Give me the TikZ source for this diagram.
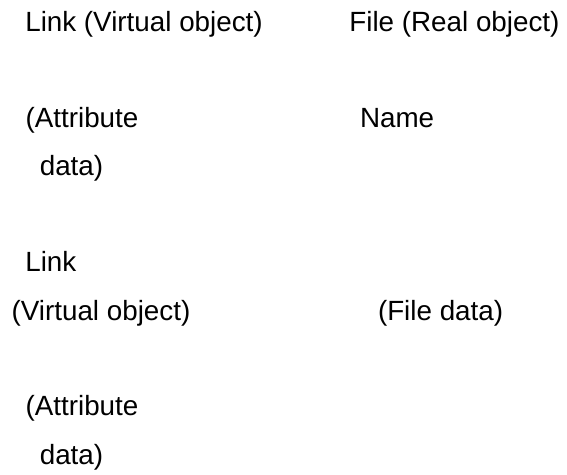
\documentclass[tikz,border=0pt]{standalone}
\usepackage{fontspec}
\setmainfont{Liberation Sans}
\begin{document}
\begin{tikzpicture}[x=1pt,y=-1pt,
  lbl/.style={anchor=base west,inner sep=0pt,outer sep=0pt,font=\fontsize{27.8}{33}\selectfont}]
\useasboundingbox (0,0) rectangle (567,474);
\node[lbl] (linkA) at (25.3,31.7) {Link (Virtual object)};
\node[lbl] (file) at (349.4,31.7) {File (Real object)};
\node[lbl] (attrA) at (25.6,127) {(Attribute};
\node[lbl] (name) at (360,127) {Name};
\node[lbl] (dataA) at (39.8,175) {data)};
\node[lbl] (linkB) at (25.3,271.7) {Link};
\node[lbl] (virtB) at (11.6,320) {(Virtual object)};
\node[lbl] (filedata) at (378,320) {(File data)};
\node[lbl] (attrB) at (25.6,415.7) {(Attribute};
\node[lbl] (dataB) at (39.8,464) {data)};
\end{tikzpicture}
\end{document}
